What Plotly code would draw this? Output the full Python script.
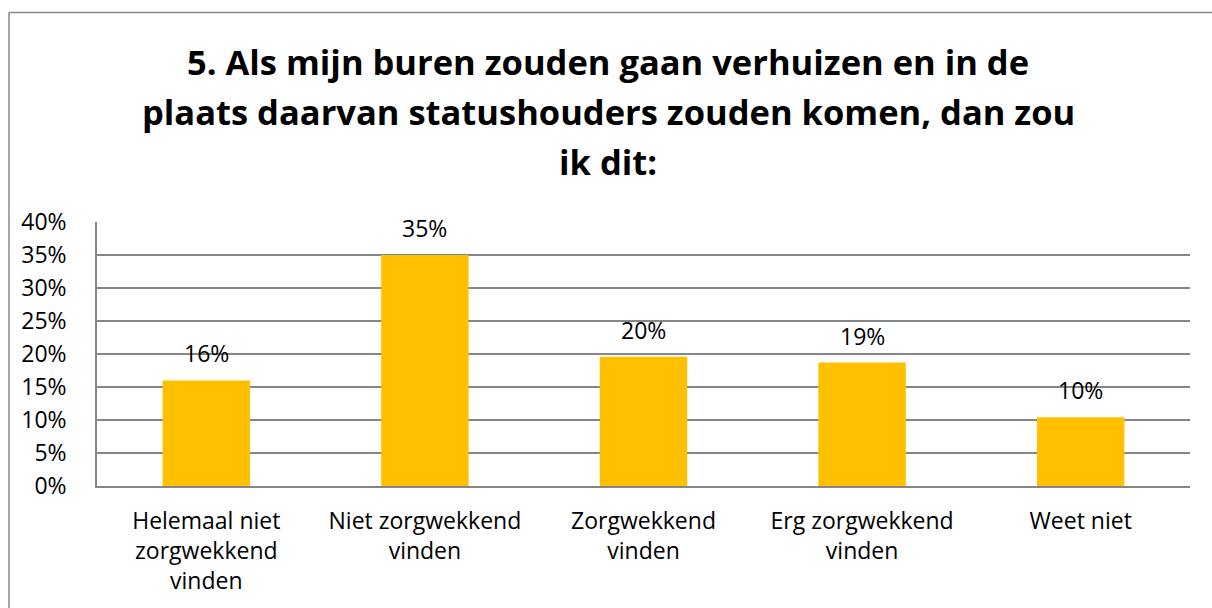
import plotly.graph_objects as go

categories = [
    "Helemaal niet<br>zorgwekkend<br>vinden",
    "Niet zorgwekkend<br>vinden",
    "Zorgwekkend<br>vinden",
    "Erg zorgwekkend<br>vinden",
    "Weet niet",
]
values = [0.160, 0.350, 0.196, 0.187, 0.104]
tick_vals = [0, 0.05, 0.10, 0.15, 0.20, 0.25, 0.30, 0.35, 0.40]
title_lines = [
    "5. Als mijn buren zouden gaan verhuizen en in de",
    "plaats daarvan statushouders zouden komen, dan zou",
    "ik dit:",
]

W, H = 1212, 608
ML, MR, MT, MB = 97, 22, 222, 122
plot_h = H - MT - MB
plot_w = W - ML - MR

def px_to_paper_y(py):
    return (H - MB - py) / plot_h

def px_to_paper_x(px):
    return (px - ML) / plot_w

FONT = "Open Sans"
GRID = "#868686"
FS = 23

fig = go.Figure()
fig.add_trace(go.Bar(
    x=categories, y=values,
    marker=dict(color="#FFC000", line=dict(width=0)),
    hoverinfo="skip",
))

annotations = []
for c, v in zip(categories, values):
    annotations.append(dict(
        x=c, y=v, xref="x", yref="y",
        text=f"{v:.0%}", showarrow=False,
        yanchor="middle", yshift=27,
        font=dict(family=FONT, size=FS, color="#000000"),
    ))

title_y_px = [61, 111, 161]
for line, py in zip(title_lines, title_y_px):
    annotations.append(dict(
        x=px_to_paper_x(608), y=px_to_paper_y(py), xref="paper", yref="paper",
        text=f"<b>{line}</b>", showarrow=False,
        xanchor="center", yanchor="middle",
        font=dict(family=FONT, size=34.5, color="#000000"),
    ))

border = dict(color="#898989", width=1.5)
shapes = [
    dict(type="line", xref="paper", yref="paper",
         x0=px_to_paper_x(9), x1=px_to_paper_x(W + 20),
         y0=px_to_paper_y(12.5), y1=px_to_paper_y(12.5),
         line=border, layer="below"),
    dict(type="line", xref="paper", yref="paper",
         x0=px_to_paper_x(9), x1=px_to_paper_x(9),
         y0=px_to_paper_y(12.5), y1=px_to_paper_y(H + 20),
         line=border, layer="below"),
]

fig.update_layout(
    width=W, height=H,
    margin=dict(l=ML, r=MR, t=MT, b=MB, pad=0),
    paper_bgcolor="white", plot_bgcolor="white",
    bargap=0.6,
    showlegend=False,
    annotations=annotations,
    shapes=shapes,
    font=dict(family=FONT, size=FS, color="#000000"),
    xaxis=dict(
        showgrid=False, showline=True, linecolor=GRID, linewidth=1.5,
        ticks="", tickfont=dict(family=FONT, size=FS, color="#000000"),
        ticklabelstandoff=14, fixedrange=True,
    ),
    yaxis=dict(
        range=[0, 0.4], tickvals=tick_vals, tickformat=".0%",
        showgrid=True, gridcolor=GRID, gridwidth=1.5,
        showline=True, linecolor=GRID, linewidth=1.5,
        zeroline=False, ticks="",
        tickfont=dict(family=FONT, size=FS, color="#000000"),
        ticklabelstandoff=24, fixedrange=True,
    ),
)

fig.write_html(
    "out.html",
    config={"displayModeBar": False},
    post_script="document.body.style.margin='0px';document.body.style.overflow='hidden';document.documentElement.style.overflow='hidden';",
)
